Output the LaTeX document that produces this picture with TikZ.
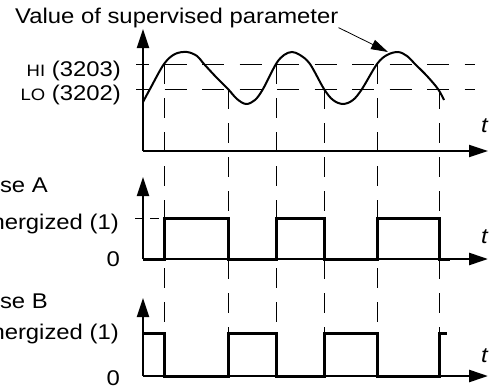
\documentclass[tikz,border=0pt]{standalone}
\usepackage{fontspec}
\setmainfont[FakeStretch=1.12]{Liberation Sans}
\usetikzlibrary{arrows.meta}
\begin{document}
\begin{tikzpicture}[x=1pt,y=-1pt,
  axisline/.style={line width=1.8pt,-{Triangle[length=19pt,width=12pt]}},
  pulse/.style={line width=3pt, line join=miter},
  hdash/.style={line width=1pt, dash pattern=on 22pt off 15.5pt, dash phase=9pt},
  vdash/.style={line width=1pt, dash pattern=on 20pt off 14pt},
  sdash/.style={line width=1pt, dash pattern=on 9pt off 6pt},
  wave/.style={line width=2pt},
  lbl/.style={font=\fontsize{21.3}{25}\selectfont, inner sep=0pt, anchor=base east},
  tlbl/.style={font=\fontsize{21.3}{25}\selectfont\itshape, inner sep=0pt, anchor=base west},
]
\useasboundingbox (0,0) rectangle (490,391);
\clip (0,0) rectangle (490,391);

% labels
\node[font=\fontsize{21.3}{25}\selectfont, inner sep=0pt, anchor=base west] (title) at (15,23) {Value of supervised parameter};
\node[lbl] (hi) at (121,76) {{\fontsize{16.5}{20}\selectfont HI} (3203)};
\node[lbl] (lo) at (121,100) {{\fontsize{16.5}{20}\selectfont LO} (3202)};
\node[lbl] (pa) at (48,192) {Pulse A};
\node[lbl] (ea) at (119,229) {Energized (1)};
\node[lbl] (za) at (120,266) {0};
\node[lbl] (pb) at (48,308) {Pulse B};
\node[lbl] (eb) at (119,339) {Energized (1)};
\node[lbl] (zb) at (120,385) {0};
\node[tlbl] (t1) at (481,132) {t};
\node[tlbl] (t2) at (481,243) {t};
\node[tlbl] (t3) at (481,362) {t};

% coordinates
\coordinate (o1) at (143,151);
\coordinate (y1) at (143,29);
\coordinate (x1) at (488,151);
\coordinate (o2) at (143,259);
\coordinate (y2) at (143,177);
\coordinate (x2) at (488,259);
\coordinate (o3) at (143,376);
\coordinate (y3) at (143,298);
\coordinate (x3) at (488,376);
\coordinate (peak) at (388,52);

% threshold lines
\draw[hdash] (136,64) -- (475,64);
\draw[hdash] (136,89) -- (475,89);
\draw[sdash] (135,218) -- (164,218);

% vertical dashed guides
\foreach \x/\y in {164/64,228/89,276/64,324/89,377/64,439/89}
  \draw[vdash] (\x,\y) -- (\x,333);

% axes
\draw[axisline] (o1) -- (y1);
\draw[axisline] (o1) -- (x1);
\draw[axisline] (o2) -- (y2);
\draw[axisline, line width=2.6pt] (o2) -- (x2);
\draw[axisline] (o3) -- (y3);
\draw[axisline, line width=2.6pt] (o3) -- (x3);

% wave
\draw[wave] plot[smooth, tension=0.55] coordinates {
 (143,102) (150,89) (164,64) (175,54) (187,52) (197,56) (204,64) (216,77) (228,89) (237,99) (246,104) (255,100) (263,89) (276,64) (284,55) (292,52) (300,55) (310,64) (324,89) (333,100) (343,104) (353,100) (362,89) (377,64) (387,55) (398,52) (407,56) (415,64) (427,76) (438,89) (444,100)};

% pulses
\draw[pulse] (143,259) -- (164,259) -- (164,218) -- (228,218) -- (228,259) -- (276,259) -- (276,218) -- (324,218) -- (324,259) -- (377,259) -- (377,218) -- (439,218) -- (439,259) -- (450,259);
\draw[pulse] (143,333) -- (164,333) -- (164,376) -- (228,376) -- (228,333) -- (276,333) -- (276,376) -- (324,376) -- (324,333) -- (377,333) -- (377,376) -- (439,376) -- (439,333) -- (447,333);

% annotation arrow
\draw[line width=0.8pt, -{Triangle[length=17pt,width=10pt]}] (title.south east) -- (peak);
\end{tikzpicture}
\end{document}
